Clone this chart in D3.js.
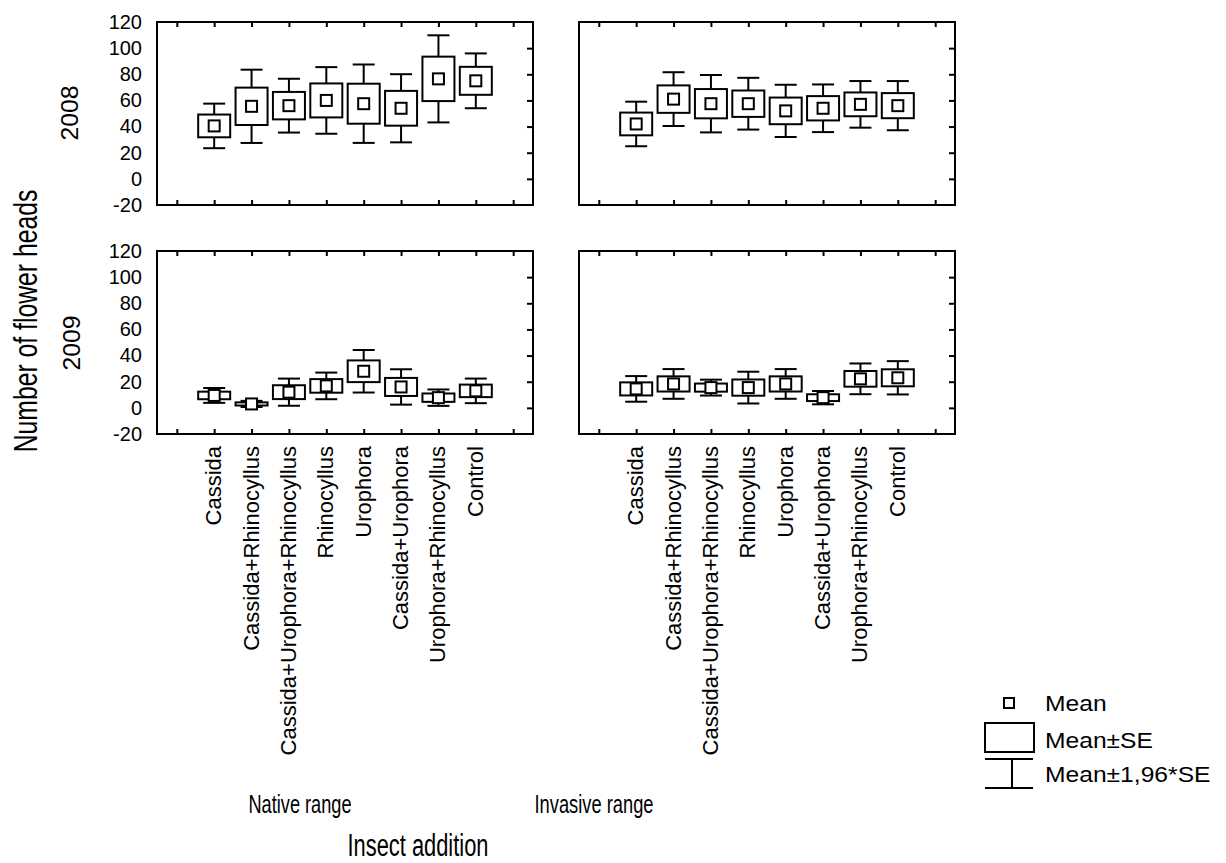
<!DOCTYPE html>
<html>
<head>
<meta charset="utf-8">
<script src="https://cdn.jsdelivr.net/npm/d3@7"></script>
<style>
  body { margin: 0; background: #fff; }
  svg { display: block; font-family: "Liberation Sans", Arial, sans-serif; }
</style>
</head>
<body>
<svg id="chart" width="1226" height="863"></svg>
<script>
const categories = ['Cassida', 'Cassida+Rhinocyllus', 'Cassida+Urophora+Rhinocyllus', 'Rhinocyllus',
  'Urophora', 'Cassida+Urophora', 'Urophora+Rhinocyllus', 'Control'];
const yTicks = [-20, 0, 20, 40, 60, 80, 100, 120];

// mean and standard error
const native2008Mean = [40.5, 55.5, 56, 60, 57.5, 54, 76.5, 75];
const native2008SE = [8.7, 14.3, 10.5, 13, 15.3, 13.3, 17, 10.7];
const invasive2008Mean = [42, 61, 57.5, 57.5, 52, 54, 57, 56];
const invasive2008SE = [8.7, 10.5, 11.2, 10.1, 10.2, 9.3, 9.1, 9.6];
const native2009Mean = [9.5, 3, 12, 16.8, 28, 16, 7.8, 13];
const native2009SE = [2.9, 1.2, 5.3, 5.2, 8.3, 6.9, 3.2, 4.8];
const invasive2009Mean = [14.5, 18.3, 15.5, 15.5, 18.3, 7.8, 22.2, 23];
const invasive2009SE = [5, 5.8, 3.1, 6.2, 5.8, 2.6, 6, 6.5];

const svg = d3.select('#chart');

const panelW = 376;
const panelH = 183;
const boxW = 32;
const capW = 22;
const markSize = 11;

const panels = [
  { x0: 157, y0: 22, mean: native2008Mean, se: native2008SE, labels: true },
  { x0: 579, y0: 22, mean: invasive2008Mean, se: invasive2008SE, labels: false },
  { x0: 157, y0: 251, mean: native2009Mean, se: native2009SE, labels: true },
  { x0: 579, y0: 251, mean: invasive2009Mean, se: invasive2009SE, labels: false }
];

// index -1 and 8 are the empty end ticks
const scaleX = d3.scaleLinear().domain([-1.53, 8.53]).range([0, panelW]);
const scaleY = d3.scaleLinear().domain([-20, 120]).range([panelH, 0]);
const xTickValues = d3.range(-1, 9);

function addText(parent, { x, y, rot = 0, sx = 1, size, anchor = 'start', text, dy = 0 }) {
  return parent.append('text')
    .attr('transform', `translate(${x},${y}) rotate(${rot}) scale(${sx},1)`)
    .attr('text-anchor', anchor)
    .attr('dy', dy)
    .style('font-size', `${size}px`)
    .attr('fill', '#000')
    .text(text);
}

panels.forEach((p, pi) => {
  const g = svg.append('g').attr('transform', `translate(${p.x0},${p.y0})`);

  // inward ticks on top, bottom and right
  const topAxis = d3.axisBottom(scaleX).tickValues(xTickValues).tickSize(5).tickFormat('');
  const bottomAxis = d3.axisTop(scaleX).tickValues(xTickValues).tickSize(5).tickFormat('');
  const rightAxis = d3.axisLeft(scaleY).tickValues([0, 20, 40, 60, 80, 100]).tickSize(6).tickFormat('');
  g.append('g').call(topAxis);
  g.append('g').attr('transform', `translate(0,${panelH})`).call(bottomAxis);
  g.append('g').attr('transform', `translate(${panelW},0)`).call(rightAxis);
  g.selectAll('.domain').remove();
  g.selectAll('.tick line').attr('stroke', '#000').attr('stroke-width', 2);

  if (p.labels) {
    const leftAxis = d3.axisLeft(scaleY).tickValues(yTicks).tickSize(0).tickPadding(15)
      .tickFormat(d => String(d));
    const la = g.append('g').call(leftAxis);
    la.select('.domain').remove();
    la.selectAll('text')
      .style('font-size', '20px')
      .style('font-family', '"Liberation Sans", Arial, sans-serif')
      .attr('fill', '#000');
  }

  const items = p.mean.map((m, i) => ({ i, m, se: p.se[i] }));
  const item = g.selectAll('.item').data(items).enter().append('g').attr('class', 'item');

  item.append('line')
    .attr('x1', d => scaleX(d.i)).attr('x2', d => scaleX(d.i))
    .attr('y1', d => scaleY(d.m - 1.96 * d.se)).attr('y2', d => scaleY(d.m + 1.96 * d.se))
    .attr('stroke', '#000').attr('stroke-width', 2);
  [-1, 1].forEach(s => {
    item.append('line')
      .attr('x1', d => scaleX(d.i) - capW / 2).attr('x2', d => scaleX(d.i) + capW / 2)
      .attr('y1', d => scaleY(d.m + s * 1.96 * d.se)).attr('y2', d => scaleY(d.m + s * 1.96 * d.se))
      .attr('stroke', '#000').attr('stroke-width', 2);
  });
  item.append('rect')
    .attr('x', d => scaleX(d.i) - boxW / 2)
    .attr('y', d => scaleY(d.m + d.se))
    .attr('width', boxW)
    .attr('height', d => scaleY(d.m - d.se) - scaleY(d.m + d.se))
    .attr('fill', '#fff').attr('stroke', '#000').attr('stroke-width', 2);
  item.append('rect')
    .attr('x', d => scaleX(d.i) - markSize / 2)
    .attr('y', d => scaleY(d.m) - markSize / 2)
    .attr('width', markSize).attr('height', markSize)
    .attr('fill', '#fff').attr('stroke', '#000').attr('stroke-width', 2);

  g.append('rect')
    .attr('width', panelW).attr('height', panelH)
    .attr('fill', 'none').attr('stroke', '#000').attr('stroke-width', 2);

  // category names below the 2009 panels
  if (pi >= 2) {
    categories.forEach((c, i) => {
      addText(g, { x: scaleX(i), y: panelH + 12, rot: -90, size: 22, anchor: 'end', text: c, dy: '0.32em' });
    });
  }
});

// titles
addText(svg, { x: 78, y: 113, rot: -90, sx: 1.08, size: 23, anchor: 'middle', text: '2008' });
addText(svg, { x: 80, y: 343, rot: -90, sx: 1.08, size: 23, anchor: 'middle', text: '2009' });
addText(svg, { x: 37, y: 321, rot: -90, sx: 0.75, size: 33, anchor: 'middle', text: 'Number of flower heads' });
addText(svg, { x: 300, y: 813, sx: 0.727, size: 25, anchor: 'middle', text: 'Native range' });
addText(svg, { x: 594, y: 813, sx: 0.732, size: 25, anchor: 'middle', text: 'Invasive range' });
addText(svg, { x: 418, y: 856, sx: 0.705, size: 31, anchor: 'middle', text: 'Insect addition' });

// legend
const legend = svg.append('g');
legend.append('rect').attr('x', 1004).attr('y', 698).attr('width', 10).attr('height', 10)
  .attr('fill', '#fff').attr('stroke', '#000').attr('stroke-width', 2);
legend.append('rect').attr('x', 985).attr('y', 723).attr('width', 49).attr('height', 29)
  .attr('fill', '#fff').attr('stroke', '#000').attr('stroke-width', 2);
legend.append('line').attr('x1', 985).attr('x2', 1033).attr('y1', 759).attr('y2', 759)
  .attr('stroke', '#000').attr('stroke-width', 2);
legend.append('line').attr('x1', 985).attr('x2', 1033).attr('y1', 788).attr('y2', 788)
  .attr('stroke', '#000').attr('stroke-width', 2);
legend.append('line').attr('x1', 1012).attr('x2', 1012).attr('y1', 759).attr('y2', 788)
  .attr('stroke', '#000').attr('stroke-width', 2);
addText(legend, { x: 1045, y: 711, sx: 1.12, size: 22, text: 'Mean' });
addText(legend, { x: 1045, y: 748, sx: 1.12, size: 22, text: 'Mean±SE' });
addText(legend, { x: 1045, y: 782, sx: 1.12, size: 22, text: 'Mean±1,96*SE' });
</script>
</body>
</html>
